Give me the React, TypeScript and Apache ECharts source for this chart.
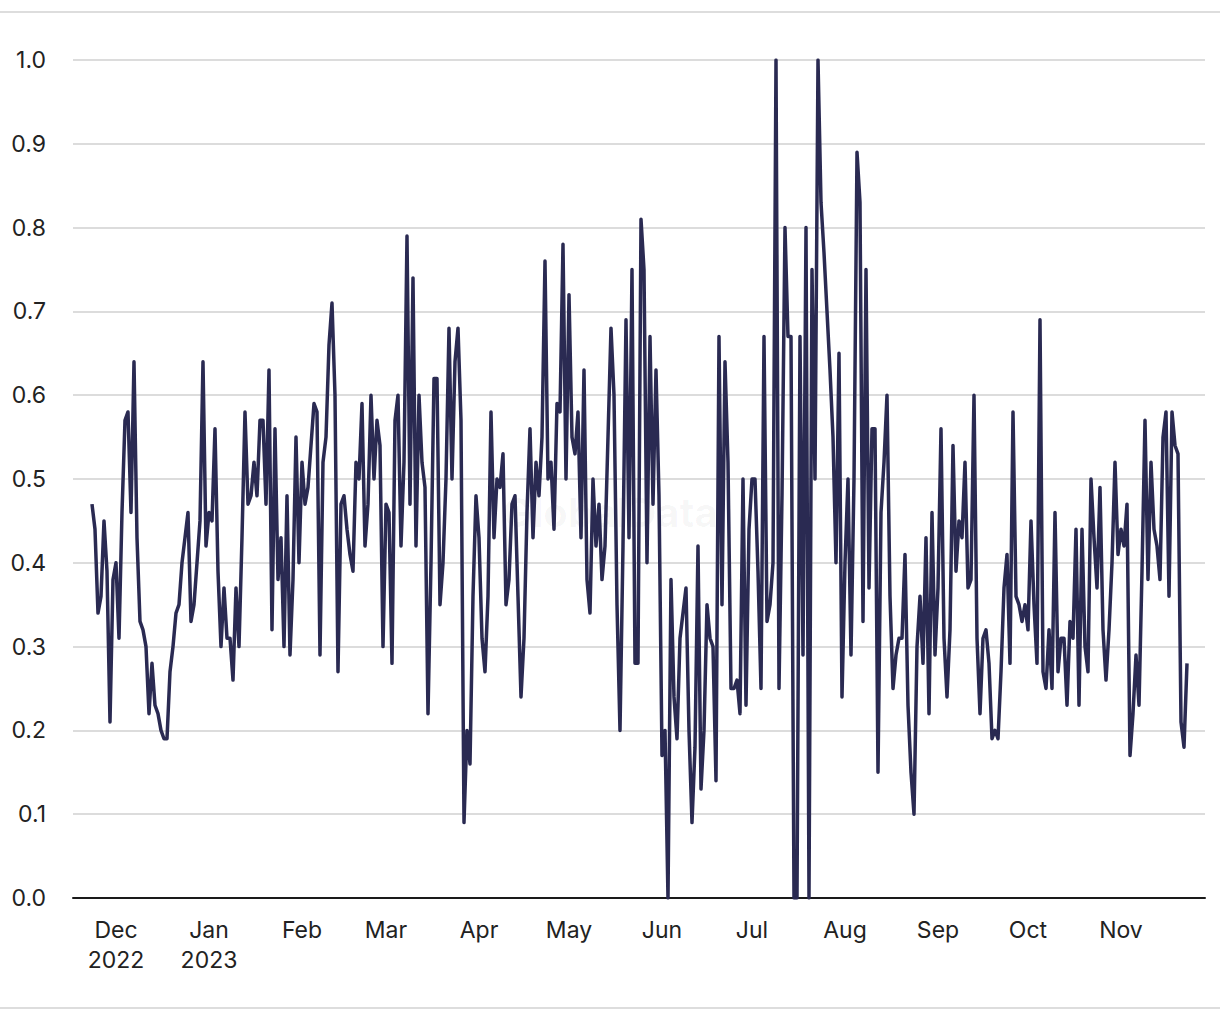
import React, { useEffect, useRef } from "react";
import * as echarts from "echarts";

// Daily values, starting 2022-11-23 (one value per day)
const startDate = [2022, 10, 23]; // year, month index, day
const values: number[] = [
  0.47, 0.44, 0.34, 0.36, 0.45, 0.39, 0.21, 0.38, 0.40, 0.31,
  0.46, 0.57, 0.58, 0.46, 0.64, 0.43, 0.33, 0.32, 0.30, 0.22,
  0.28, 0.23, 0.22, 0.20, 0.19, 0.19, 0.27, 0.30, 0.34, 0.35,
  0.40, 0.43, 0.46, 0.33, 0.35, 0.40, 0.45, 0.64, 0.42, 0.46,
  0.45, 0.56, 0.39, 0.30, 0.37, 0.31, 0.31, 0.26, 0.37, 0.30,
  0.43, 0.58, 0.47, 0.48, 0.52, 0.48, 0.57, 0.57, 0.47, 0.63,
  0.32, 0.56, 0.38, 0.43, 0.30, 0.48, 0.29, 0.38, 0.55, 0.40,
  0.52, 0.47, 0.49, 0.54, 0.59, 0.58, 0.29, 0.52, 0.55, 0.66,
  0.71, 0.60, 0.27, 0.47, 0.48, 0.44, 0.41, 0.39, 0.52, 0.50,
  0.59, 0.42, 0.47, 0.60, 0.50, 0.57, 0.54, 0.30, 0.47, 0.46,
  0.28, 0.57, 0.60, 0.42, 0.52, 0.79, 0.47, 0.74, 0.42, 0.60,
  0.52, 0.49, 0.22, 0.40, 0.62, 0.62, 0.35, 0.40, 0.50, 0.68,
  0.50, 0.64, 0.68, 0.57, 0.09, 0.20, 0.16, 0.36, 0.48, 0.43,
  0.31, 0.27, 0.36, 0.58, 0.43, 0.50, 0.49, 0.53, 0.35, 0.38,
  0.47, 0.48, 0.36, 0.24, 0.31, 0.46, 0.56, 0.43, 0.52, 0.48,
  0.55, 0.76, 0.50, 0.52, 0.44, 0.59, 0.58, 0.78, 0.50, 0.72,
  0.55, 0.53, 0.58, 0.43, 0.63, 0.38, 0.34, 0.50, 0.42, 0.47,
  0.38, 0.42, 0.55, 0.68, 0.60, 0.35, 0.20, 0.42, 0.69, 0.43,
  0.75, 0.28, 0.28, 0.81, 0.75, 0.40, 0.67, 0.47, 0.63, 0.48,
  0.17, 0.20, 0.00, 0.38, 0.24, 0.19, 0.31, 0.34, 0.37, 0.20,
  0.09, 0.18, 0.42, 0.13, 0.20, 0.35, 0.31, 0.30, 0.14, 0.67,
  0.35, 0.64, 0.52, 0.25, 0.25, 0.26, 0.22, 0.50, 0.23, 0.44,
  0.50, 0.50, 0.39, 0.25, 0.67, 0.33, 0.35, 0.40, 1.00, 0.25,
  0.48, 0.80, 0.67, 0.67, 0.00, 0.00, 0.67, 0.29, 0.80, 0.00,
  0.75, 0.50, 1.00, 0.83, 0.77, 0.70, 0.63, 0.55, 0.40, 0.65,
  0.24, 0.40, 0.50, 0.29, 0.50, 0.89, 0.83, 0.33, 0.75, 0.37,
  0.56, 0.56, 0.15, 0.46, 0.52, 0.60, 0.36, 0.25, 0.29, 0.31,
  0.31, 0.41, 0.23, 0.15, 0.10, 0.30, 0.36, 0.28, 0.43, 0.22,
  0.46, 0.29, 0.37, 0.56, 0.31, 0.24, 0.32, 0.54, 0.39, 0.45,
  0.43, 0.52, 0.37, 0.38, 0.60, 0.31, 0.22, 0.31, 0.32, 0.28,
  0.19, 0.20, 0.19, 0.27, 0.37, 0.41, 0.28, 0.58, 0.36, 0.35,
  0.33, 0.35, 0.32, 0.45, 0.35, 0.28, 0.69, 0.27, 0.25, 0.32,
  0.25, 0.46, 0.27, 0.31, 0.31, 0.23, 0.33, 0.31, 0.44, 0.23,
  0.44, 0.30, 0.27, 0.50, 0.43, 0.37, 0.49, 0.32, 0.26, 0.32,
  0.40, 0.52, 0.41, 0.44, 0.42, 0.47, 0.17, 0.22, 0.29, 0.23,
  0.39, 0.57, 0.38, 0.52, 0.44, 0.42, 0.38, 0.55, 0.58, 0.36,
  0.58, 0.54, 0.53, 0.21, 0.18, 0.28,
];

// Month tick positions (first day of month) and their labels
const monthStarts: [number, number][] = [
  [2022, 11], [2023, 0], [2023, 1], [2023, 2], [2023, 3], [2023, 4],
  [2023, 5], [2023, 6], [2023, 7], [2023, 8], [2023, 9], [2023, 10],
];
const monthLabels: string[] = [
  "Dec\n2022", "Jan\n2023", "Feb", "Mar", "Apr", "May",
  "Jun", "Jul", "Aug", "Sep", "Oct", "Nov",
];
const yTicks: number[] = [0, 0.1, 0.2, 0.3, 0.4, 0.5, 0.6, 0.7, 0.8, 0.9, 1.0];

const DAY = 86400000;
const FONT = "Inter, 'Noto Sans', sans-serif";

export default function App() {
  const ref = useRef<HTMLDivElement>(null);

  useEffect(() => {
    document.body.style.margin = "0";
    if (!ref.current) return;
    const chart = echarts.init(ref.current, undefined, { renderer: "svg" });
    const t0 = Date.UTC(startDate[0], startDate[1], startDate[2]);
    const data = values.map((v, i) => [t0 + i * DAY, v]);
    const tickTimes = monthStarts.map(([y, m]) => Date.UTC(y, m, 1));
    const tEnd = t0 + (values.length - 1) * DAY;

    chart.setOption({
      animation: false,
      backgroundColor: "#ffffff",
      grid: { left: 73, right: 15, top: 60, bottom: 122, containLabel: false },
      graphic: [
        {
          type: "line",
          shape: { x1: 0, y1: 12, x2: 1220, y2: 12 },
          style: { stroke: "#dddddd", lineWidth: 2 },
        },
        {
          type: "line",
          shape: { x1: 0, y1: 1008, x2: 1220, y2: 1008 },
          style: { stroke: "#dddddd", lineWidth: 2 },
        },
        {
          type: "text",
          x: 610,
          y: 512,
          z: 0,
          style: {
            text: "GlobalData",
            fontSize: 40,
            fontWeight: "bold",
            fontFamily: FONT,
            fill: "rgba(0,0,0,0.035)",
            align: "center",
            verticalAlign: "middle",
          },
        },
      ],
      xAxis: {
        type: "value",
        min: t0 - 6.33 * DAY,
        max: tEnd + 6 * DAY,
        axisLine: { show: true, onZero: false, lineStyle: { color: "#1a1a1a", width: 2 } },
        axisTick: { show: false },
        splitLine: { show: false },
        axisLabel: {
          customValues: tickTimes,
          formatter: (v: number) => {
            const idx = tickTimes.findIndex((t) => Math.abs(t - v) < DAY / 2);
            return idx >= 0 ? monthLabels[idx] : "";
          },
          color: "#222222",
          fontSize: 23,
          fontFamily: FONT,
          lineHeight: 30,
          margin: 17,
          hideOverlap: false,
          showMinLabel: true,
          showMaxLabel: true,
        },
      },
      yAxis: {
        type: "value",
        min: 0,
        max: 1,
        interval: 0.1,
        axisLine: { show: false },
        axisTick: { show: false },
        splitLine: { show: true, lineStyle: { color: "#dcdcdc", width: 2 } },
        axisLabel: {
          formatter: (v: number) => {
            const t = yTicks.find((y) => Math.abs(y - v) < 1e-6);
            return (t !== undefined ? t : v).toFixed(1);
          },
          color: "#222222",
          fontSize: 23,
          fontFamily: FONT,
          margin: 27,
        },
      },
      series: [
        {
          type: "line",
          data,
          showSymbol: false,
          symbol: "none",
          lineStyle: { color: "#2a2a52", width: 3.5, join: "round" },
          z: 3,
        },
      ],
    });

    return () => chart.dispose();
  }, []);

  return <div ref={ref} style={{ width: 1220, height: 1020 }} />;
}
